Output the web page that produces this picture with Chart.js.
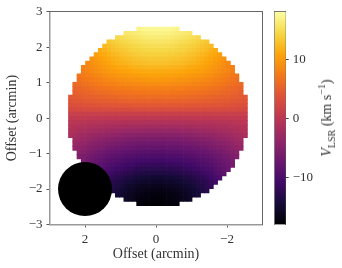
<!DOCTYPE html>
<html lang="en">
  <head>
    <meta charset="UTF-8" />
    <title>Velocity map</title>
    <script src="https://cdn.jsdelivr.net/npm/chart.js@4"></script>
    <style>
      body { margin: 0; background: #fff; }
      canvas { position: absolute; top: 0; }
      #cbLabel {
        position: absolute; left: 327px; top: 118px; white-space: nowrap;
        font: 14px "Liberation Serif", serif; color: #333;
        transform: translate(-50%, -50%) rotate(-90deg);
      }
      #cbLabel sub { font-size: 10px; line-height: 0; }
      #cbLabel sup { font-size: 10px; line-height: 0; }
    </style>
  </head>
  <body>
    <canvas id="mapChart" width="342" height="268" style="left:0"></canvas>
    <canvas id="barChart" width="72" height="268" style="left:270px"></canvas>
    <div id="cbLabel"><i>V</i><sub>LSR</sub> (km s<sup>−1</sup>)</div>

    <script>
      const xTicks = [2, 0, -2];
      const yTicks = [-3, -2, -1, 0, 1, 2, 3];
      const barTicks = [-10, 0, 10];
      const vMin = -18;
      const vMax = 18.2;
      const beamX = [2];
      const beamY = [-2];
      // first column of each row of the map
      const rowStart = [16, 13, 11, 9, 8, 7, 6, 5, 4, 3, 3, 2, 2, 1, 1, 1, 0, 0, 0, 0, 0, 0, 0, 0, 0, 0, 1, 1, 1, 2, 2, 3, 3, 4, 5, 6, 7, 8, 9, 11, 13, 16];
      // km/s, top row first
      const rowValues = [
        [17.2,17.4,17.5,17.6,17.6,17.6,17.6,17.5,17.4,17.2],
        [16,16.2,16.4,16.6,16.8,16.9,17,17,17,17,16.9,16.8,16.6,16.4,16.2,16],
        [14.8,15.1,15.4,15.6,15.8,16,16.2,16.3,16.4,16.4,16.4,16.4,16.3,16.2,16,15.8,15.6,15.4,15.1,14.8],
        [13.4,13.8,14.2,14.5,14.8,15,15.2,15.4,15.6,15.7,15.8,15.8,15.8,15.8,15.7,15.6,15.4,15.2,15,14.8,14.5,14.2,13.8,13.4],
        [12.4,12.8,13.2,13.6,13.9,14.2,14.4,14.6,14.8,15,15.1,15.2,15.2,15.2,15.2,15.1,15,14.8,14.6,14.4,14.2,13.9,13.6,13.2,12.8,12.4],
        [11.5,11.9,12.4,12.8,13.1,13.4,13.7,14,14.2,14.3,14.5,14.6,14.7,14.7,14.7,14.7,14.6,14.5,14.3,14.2,14,13.7,13.4,13.1,12.8,12.4,11.9,11.5],
        [10.5,11,11.4,11.8,12.2,12.5,12.9,13.1,13.4,13.6,13.8,13.9,14,14.1,14.1,14.1,14.1,14,13.9,13.8,13.6,13.4,13.1,12.9,12.5,12.2,11.8,11.4,11,10.5],
        [9.5,10,10.4,10.9,11.3,11.7,12,12.3,12.6,12.8,13,13.2,13.3,13.4,13.5,13.5,13.5,13.5,13.4,13.3,13.2,13,12.8,12.6,12.3,12,11.7,11.3,10.9,10.4,10,9.5],
        [8.7,9.2,9.7,10.1,10.5,10.9,11.3,11.6,11.9,12.1,12.3,12.5,12.7,12.8,12.9,13,13,13,13,12.9,12.8,12.7,12.5,12.3,12.1,11.9,11.6,11.3,10.9,10.5,10.1,9.7,9.2,8.7],
        [8,8.5,8.9,9.3,9.7,10.1,10.4,10.7,11,11.2,11.4,11.6,11.8,11.9,12,12.1,12.2,12.2,12.2,12.2,12.1,12,11.9,11.8,11.6,11.4,11.2,11,10.7,10.4,10.1,9.7,9.3,8.9,8.5,8],
        [7.9,8.3,8.7,9,9.3,9.6,9.9,10.2,10.4,10.6,10.8,10.9,11.1,11.2,11.3,11.3,11.4,11.4,11.4,11.4,11.3,11.3,11.2,11.1,10.9,10.8,10.6,10.4,10.2,9.9,9.6,9.3,9,8.7,8.3,7.9],
        [7.1,7.5,7.8,8.1,8.5,8.7,9,9.3,9.5,9.7,9.9,10,10.2,10.3,10.4,10.5,10.5,10.6,10.6,10.6,10.6,10.5,10.5,10.4,10.3,10.2,10,9.9,9.7,9.5,9.3,9,8.7,8.5,8.1,7.8,7.5,7.1],
        [6.7,7,7.3,7.6,7.9,8.1,8.4,8.6,8.8,9,9.1,9.3,9.4,9.5,9.6,9.7,9.7,9.8,9.8,9.8,9.8,9.7,9.7,9.6,9.5,9.4,9.3,9.1,9,8.8,8.6,8.4,8.1,7.9,7.6,7.3,7,6.7],
        [6,6.3,6.6,6.8,7.1,7.3,7.6,7.8,8,8.1,8.3,8.4,8.6,8.7,8.8,8.8,8.9,9,9,9,9,9,9,8.9,8.8,8.8,8.7,8.6,8.4,8.3,8.1,8,7.8,7.6,7.3,7.1,6.8,6.6,6.3,6],
        [5.4,5.7,5.9,6.1,6.4,6.6,6.8,6.9,7.1,7.3,7.4,7.5,7.6,7.7,7.8,7.9,7.9,8,8,8,8,8,8,7.9,7.9,7.8,7.7,7.6,7.5,7.4,7.3,7.1,6.9,6.8,6.6,6.4,6.1,5.9,5.7,5.4],
        [5,5.3,5.5,5.7,5.8,6,6.2,6.3,6.5,6.6,6.7,6.8,6.9,7,7,7.1,7.1,7.2,7.2,7.2,7.2,7.2,7.2,7.1,7.1,7,7,6.9,6.8,6.7,6.6,6.5,6.3,6.2,6,5.8,5.7,5.5,5.3,5],
        [4.4,4.6,4.8,4.9,5.1,5.2,5.3,5.4,5.6,5.7,5.8,5.9,6,6.1,6.2,6.2,6.2,6.3,6.3,6.3,6.3,6.3,6.3,6.3,6.3,6.2,6.2,6.2,6.1,6,5.9,5.8,5.7,5.6,5.4,5.3,5.2,5.1,4.9,4.8,4.6,4.4],
        [4,4.1,4.2,4.4,4.5,4.6,4.7,4.8,4.9,5,5,5.1,5.2,5.2,5.3,5.3,5.4,5.4,5.4,5.4,5.4,5.4,5.4,5.4,5.4,5.4,5.3,5.3,5.2,5.2,5.1,5,5,4.9,4.8,4.7,4.6,4.5,4.4,4.2,4.1,4],
        [3.4,3.5,3.6,3.7,3.9,3.9,4,4,4.1,4.1,4.2,4.2,4.3,4.3,4.3,4.4,4.4,4.4,4.4,4.4,4.4,4.4,4.4,4.4,4.4,4.4,4.4,4.3,4.3,4.3,4.2,4.2,4.1,4.1,4,4,3.9,3.9,3.7,3.6,3.5,3.4],
        [2.6,2.7,2.7,2.8,2.8,2.9,2.9,2.9,3,3,3,3,3,3,3,3.1,3.1,3.1,3.1,3.1,3.1,3.1,3.1,3.1,3.1,3.1,3.1,3,3,3,3,3,3,3,2.9,2.9,2.9,2.8,2.8,2.7,2.7,2.6],
        [1.4,1.4,1.4,1.4,1.4,1.4,1.4,1.4,1.4,1.4,1.4,1.4,1.4,1.4,1.4,1.4,1.4,1.4,1.4,1.4,1.4,1.4,1.4,1.4,1.4,1.4,1.4,1.4,1.4,1.4,1.4,1.4,1.4,1.4,1.4,1.4,1.4,1.4,1.4,1.4,1.4,1.4],
        [0.7,0.6,0.6,0.5,0.5,0.4,0.4,0.4,0.3,0.3,0.3,0.3,0.3,0.2,0.2,0.2,0.2,0.2,0.2,0.2,0.2,0.2,0.2,0.2,0.2,0.2,0.2,0.2,0.2,0.3,0.3,0.3,0.3,0.3,0.4,0.4,0.4,0.5,0.5,0.6,0.6,0.7],
        [0,-0.1,-0.2,-0.3,-0.5,-0.5,-0.6,-0.6,-0.7,-0.8,-0.8,-0.8,-0.9,-0.9,-0.9,-1,-1,-1,-1,-1,-1,-1,-1,-1,-1,-1,-1,-0.9,-0.9,-0.9,-0.8,-0.8,-0.8,-0.7,-0.6,-0.6,-0.5,-0.5,-0.3,-0.2,-0.1,0],
        [-0.6,-0.7,-0.9,-1,-1.1,-1.3,-1.4,-1.5,-1.6,-1.7,-1.8,-1.9,-1.9,-2,-2,-2.1,-2.1,-2.2,-2.2,-2.2,-2.2,-2.2,-2.2,-2.2,-2.2,-2.1,-2.1,-2,-2,-1.9,-1.9,-1.8,-1.7,-1.6,-1.5,-1.4,-1.3,-1.1,-1,-0.9,-0.7,-0.6],
        [-1,-1.2,-1.5,-1.7,-1.9,-2,-2.2,-2.4,-2.5,-2.6,-2.8,-2.9,-3,-3.1,-3.2,-3.2,-3.3,-3.3,-3.4,-3.4,-3.4,-3.4,-3.4,-3.4,-3.3,-3.3,-3.2,-3.2,-3.1,-3,-2.9,-2.8,-2.6,-2.5,-2.4,-2.2,-2,-1.9,-1.7,-1.5,-1.2,-1],
        [-1.6,-1.8,-2.1,-2.4,-2.6,-2.9,-3.1,-3.3,-3.5,-3.6,-3.8,-3.9,-4.1,-4.2,-4.3,-4.4,-4.5,-4.5,-4.6,-4.6,-4.6,-4.6,-4.6,-4.6,-4.5,-4.5,-4.4,-4.3,-4.2,-4.1,-3.9,-3.8,-3.6,-3.5,-3.3,-3.1,-2.9,-2.6,-2.4,-2.1,-1.8,-1.6],
        [-2.4,-2.7,-3,-3.3,-3.6,-3.9,-4.1,-4.4,-4.6,-4.8,-5,-5.1,-5.3,-5.4,-5.5,-5.6,-5.7,-5.7,-5.8,-5.8,-5.8,-5.8,-5.7,-5.7,-5.6,-5.5,-5.4,-5.3,-5.1,-5,-4.8,-4.6,-4.4,-4.1,-3.9,-3.6,-3.3,-3,-2.7,-2.4],
        [-2.9,-3.3,-3.7,-4,-4.4,-4.7,-4.9,-5.2,-5.5,-5.7,-5.9,-6.1,-6.2,-6.4,-6.5,-6.6,-6.7,-6.7,-6.8,-6.8,-6.8,-6.8,-6.7,-6.7,-6.6,-6.5,-6.4,-6.2,-6.1,-5.9,-5.7,-5.5,-5.2,-4.9,-4.7,-4.4,-4,-3.7,-3.3,-2.9],
        [-3.5,-3.9,-4.3,-4.7,-5.1,-5.4,-5.7,-6,-6.3,-6.5,-6.8,-7,-7.2,-7.3,-7.5,-7.6,-7.7,-7.7,-7.8,-7.8,-7.8,-7.8,-7.7,-7.7,-7.6,-7.5,-7.3,-7.2,-7,-6.8,-6.5,-6.3,-6,-5.7,-5.4,-5.1,-4.7,-4.3,-3.9,-3.5],
        [-4.5,-5,-5.4,-5.8,-6.2,-6.5,-6.9,-7.2,-7.4,-7.7,-7.9,-8.1,-8.3,-8.4,-8.6,-8.7,-8.7,-8.8,-8.8,-8.8,-8.8,-8.7,-8.7,-8.6,-8.4,-8.3,-8.1,-7.9,-7.7,-7.4,-7.2,-6.9,-6.5,-6.2,-5.8,-5.4,-5,-4.5],
        [-5.1,-5.6,-6.1,-6.5,-6.9,-7.3,-7.7,-8,-8.3,-8.6,-8.8,-9,-9.2,-9.4,-9.5,-9.6,-9.7,-9.8,-9.8,-9.8,-9.8,-9.7,-9.6,-9.5,-9.4,-9.2,-9,-8.8,-8.6,-8.3,-8,-7.7,-7.3,-6.9,-6.5,-6.1,-5.6,-5.1],
        [-5.9,-6.5,-7,-7.5,-7.9,-8.3,-8.7,-9,-9.4,-9.7,-9.9,-10.1,-10.3,-10.5,-10.6,-10.7,-10.8,-10.8,-10.8,-10.8,-10.7,-10.6,-10.5,-10.3,-10.1,-9.9,-9.7,-9.4,-9,-8.7,-8.3,-7.9,-7.5,-7,-6.5,-5.9],
        [-6.2,-6.9,-7.4,-8,-8.5,-9,-9.4,-9.8,-10.2,-10.5,-10.8,-11,-11.2,-11.4,-11.6,-11.7,-11.8,-11.8,-11.8,-11.8,-11.7,-11.6,-11.4,-11.2,-11,-10.8,-10.5,-10.2,-9.8,-9.4,-9,-8.5,-8,-7.4,-6.9,-6.2],
        [-7.3,-7.9,-8.5,-9.1,-9.6,-10.1,-10.6,-11,-11.3,-11.6,-11.9,-12.2,-12.4,-12.6,-12.7,-12.8,-12.8,-12.8,-12.8,-12.7,-12.6,-12.4,-12.2,-11.9,-11.6,-11.3,-11,-10.6,-10.1,-9.6,-9.1,-8.5,-7.9,-7.3],
        [-8.4,-9,-9.7,-10.3,-10.8,-11.3,-11.8,-12.2,-12.5,-12.8,-13.1,-13.3,-13.5,-13.7,-13.8,-13.8,-13.8,-13.8,-13.7,-13.5,-13.3,-13.1,-12.8,-12.5,-12.2,-11.8,-11.3,-10.8,-10.3,-9.7,-9,-8.4],
        [-9.8,-10.5,-11.1,-11.7,-12.2,-12.7,-13.1,-13.5,-13.8,-14.1,-14.3,-14.5,-14.7,-14.8,-14.8,-14.8,-14.8,-14.7,-14.5,-14.3,-14.1,-13.8,-13.5,-13.1,-12.7,-12.2,-11.7,-11.1,-10.5,-9.8],
        [-11.1,-11.7,-12.3,-12.9,-13.3,-13.8,-14.2,-14.5,-14.8,-15.1,-15.3,-15.4,-15.5,-15.6,-15.6,-15.5,-15.4,-15.3,-15.1,-14.8,-14.5,-14.2,-13.8,-13.3,-12.9,-12.3,-11.7,-11.1],
        [-12.1,-12.7,-13.3,-13.8,-14.3,-14.8,-15.2,-15.5,-15.8,-16,-16.1,-16.2,-16.3,-16.3,-16.2,-16.1,-16,-15.8,-15.5,-15.2,-14.8,-14.3,-13.8,-13.3,-12.7,-12.1],
        [-13,-13.7,-14.2,-14.8,-15.2,-15.7,-16,-16.3,-16.5,-16.7,-16.8,-16.9,-16.9,-16.8,-16.7,-16.5,-16.3,-16,-15.7,-15.2,-14.8,-14.2,-13.7,-13],
        [-14.4,-15,-15.5,-16,-16.3,-16.7,-16.9,-17.1,-17.2,-17.3,-17.3,-17.2,-17.1,-16.9,-16.7,-16.3,-16,-15.5,-15,-14.4],
        [-15.7,-16.2,-16.6,-16.9,-17.2,-17.4,-17.5,-17.6,-17.6,-17.5,-17.4,-17.2,-16.9,-16.6,-16.2,-15.7],
        [-17.2,-17.5,-17.7,-17.8,-17.9,-17.9,-17.8,-17.7,-17.5,-17.2],
      ];
      const inferno = ["#000004", "#160b39", "#420a68", "#6a176e", "#932667", "#bc3754", "#dd513a", "#f37819", "#fca50a", "#f6d746", "#fcffa4"];

      function hexToRgb(hex) {
        return [1, 3, 5].map((i) => parseInt(hex.slice(i, i + 2), 16));
      }

      function velocityColor(v) {
        const t = Math.min(1, Math.max(0, (v - vMin) / (vMax - vMin))) * (inferno.length - 1);
        const i = Math.min(inferno.length - 2, Math.floor(t));
        const a = hexToRgb(inferno[i]);
        const b = hexToRgb(inferno[i + 1]);
        const c = a.map((p, k) => Math.round(p + (b[k] - p) * (t - i)));
        return `rgb(${c[0]}, ${c[1]}, ${c[2]})`;
      }

      const cells = [];
      rowValues.forEach((row, r) => {
        row.forEach((v, i) => {
          cells.push({ x: 2.405 - 0.12 * (rowStart[r] + i), y: 2.51 - 0.12 * r, v });
        });
      });

      const textColor = "#333";
      const serif = { family: "'Liberation Serif', serif", size: 14 };
      const tickFont = { family: "'Liberation Serif', serif", size: 13 };
      const hidden = { display: false };
      const minus = (v) => String(v).replace("-", "\u2212");

      new Chart(document.getElementById("mapChart"), {
        type: "scatter",
        data: {
          datasets: [
            {
              data: beamX.map((x, i) => ({ x, y: beamY[i] })),
              pointRadius: 27,
              pointBackgroundColor: "#000",
              pointBorderWidth: 0,
              order: 0,
            },
            {
              data: cells,
              pointStyle: "rect",
              pointRadius: 3.5,
              pointBorderWidth: 0,
              pointBackgroundColor: (c) => velocityColor(c.raw.v),
              order: 1,
            },
          ],
        },
        options: {
          responsive: false,
          animation: false,
          events: [],
          // the beam marker is big, stop it from pushing the plot area down
          layout: { autoPadding: false, padding: { top: 11, left: 0, right: 0, bottom: 0 } },
          plugins: { legend: hidden, tooltip: { enabled: false } },
          scales: {
            x: {
              type: "linear",
              reverse: true,
              min: -3,
              max: 3,
              afterBuildTicks: (s) => { s.ticks = xTicks.map((value) => ({ value })); },
              afterFit: (s) => { s.height = 43.5; },
              ticks: { color: textColor, font: tickFont, padding: 4, maxRotation: 0, callback: minus },
              grid: { drawOnChartArea: false, tickLength: 3, tickColor: "#555" },
              border: { color: "#999", width: 1.5 },
              title: { display: true, text: "Offset (arcmin)", color: textColor, font: serif, padding: { top: 0, bottom: 5 } },
            },
            y: {
              min: -3,
              max: 3,
              afterBuildTicks: (s) => { s.ticks = yTicks.map((value) => ({ value })); },
              afterFit: (s) => { s.width = 49.5; },
              ticks: { color: textColor, font: tickFont, padding: 4, callback: minus },
              grid: { drawOnChartArea: false, tickLength: 3, tickColor: "#555" },
              border: { color: "#999", width: 1.5 },
              title: { display: true, text: "Offset (arcmin)", color: textColor, font: serif, padding: { top: 4, bottom: 0 } },
            },
            xTop: {
              type: "linear",
              position: "top",
              min: -3,
              max: 3,
              afterFit: (s) => { s.height = 0; },
              ticks: hidden,
              grid: { display: false },
              border: { color: "#666", width: 1 },
            },
            yRight: {
              type: "linear",
              position: "right",
              min: -3,
              max: 3,
              afterFit: (s) => { s.width = 79.5; },
              ticks: hidden,
              grid: { display: false },
              border: { color: "#666", width: 1 },
            },
          },
        },
      });

      // colour bar: one floating bar filled with the colormap
      new Chart(document.getElementById("barChart"), {
        type: "bar",
        data: {
          labels: ["V"],
          datasets: [
            {
              data: [[vMin, vMax]],
              barPercentage: 1,
              categoryPercentage: 1,
              backgroundColor: (c) => {
                const area = c.chart.chartArea;
                if (!area) return "#000";
                const g = c.chart.ctx.createLinearGradient(0, area.bottom, 0, area.top);
                inferno.forEach((col, i) => g.addColorStop(i / (inferno.length - 1), col));
                return g;
              },
            },
          ],
        },
        options: {
          responsive: false,
          animation: false,
          events: [],
          layout: { padding: { left: 4.7, right: 0, top: 11, bottom: 43.5 } },
          plugins: { legend: hidden, tooltip: { enabled: false } },
          scales: {
            x: {
              display: false,
            },
            y: {
              position: "right",
              min: vMin,
              max: vMax,
              afterBuildTicks: (s) => { s.ticks = barTicks.map((value) => ({ value })); },
              afterFit: (s) => { s.width = 56.3; },
              ticks: { color: textColor, font: tickFont, padding: 4, callback: minus },
              grid: { drawOnChartArea: false, tickLength: 3, tickColor: "#444" },
              border: { color: "#666", width: 1 },
            },
            yLeft: {
              position: "left",
              min: vMin,
              max: vMax,
              afterFit: (s) => { s.width = 0; },
              ticks: hidden,
              grid: { display: false },
              border: { color: "#888", width: 1 },
            },
            xTop: {
              type: "linear",
              position: "top",
              afterFit: (s) => { s.height = 0; },
              ticks: hidden,
              grid: { display: false },
              border: { color: "#666", width: 1 },
            },
          },
        },
      });
    </script>
  </body>
</html>
